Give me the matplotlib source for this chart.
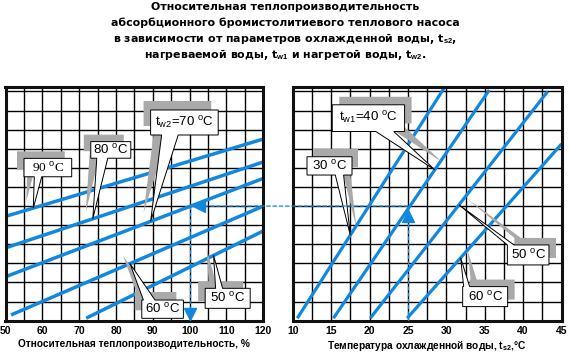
import numpy as np
import matplotlib
matplotlib.use('Agg')
import matplotlib.pyplot as plt
from matplotlib.patches import Polygon, ConnectionPatch

plt.rcParams['font.family'] = ['Liberation Sans', 'DejaVu Sans']
plt.rcParams['mathtext.fontset'] = 'custom'
plt.rcParams['mathtext.rm'] = 'Liberation Sans'
plt.rcParams['mathtext.it'] = 'Liberation Sans:italic'
plt.rcParams['mathtext.bf'] = 'Liberation Sans:bold'

# ---------------- data ----------------
title_lines = [
    'Относительная теплопроизводительность',
    'абсорбционного бромистолитиевого теплового насоса',
    r'в зависимости от параметров охлажденной воды, t$_{\mathbf{s2}}$,',
    r'нагреваемой воды, t$_{\mathbf{w1}}$ и нагретой воды, t$_{\mathbf{w2}}$.',
]
left_xlabel = 'Относительная теплопроизводительность, %'
right_xlabel = r'Температура охлажденной воды, t$_{\mathbf{s2}}$,°C'

# left panel: relative capacity (%) vs. level, one line per t_w2
left_tw2 = [90, 80, 70, 60, 50]
left_x = [[50, 120], [50, 120], [50, 120], [51.5, 120], [71.9, 120]]
left_y = [[5.46, 9.51], [3.81, 8.31], [2.30, 7.45], [0.30, 6.00], [0.13, 4.70]]
left_ticks = [50, 60, 70, 80, 90, 100, 110, 120]

# right panel: chilled water temperature vs. level, one line per t_w1
right_tw1 = [30, 40, 50, 60]
right_x = [[10.6, 29.7], [15.3, 35.6], [20.1, 43.2], [24.9, 45.0]]
right_y = [[0.13, 12.17], [0.13, 12.08], [0.13, 12.00], [0.13, 9.25]]
right_ticks = [10, 15, 20, 25, 30, 35, 40, 45]

# worked example
ex_ts2 = 25
ex_level = 6
ex_q = 100

BLUE = '#1188dd'
GRAY = '#a9a9a9'

fig = plt.figure(figsize=(5.7, 3.57), dpi=100)
axL = fig.add_axes([5.5/570, 1-320.7/357, (263.3-5.5)/570, (320.7-86.7)/357])
axR = fig.add_axes([292.7/570, 1-320.7/357, (561.5-292.7)/570, (320.7-86.7)/357])

YMAX = 12.25
for ax, lo, hi, step, ticks in [(axL, 50, 120, 5, left_ticks), (axR, 10, 45, 2.5, right_ticks)]:
    ax.set_xlim(lo, hi)
    ax.set_ylim(0, YMAX)
    ax.set_xticks(ticks)
    ax.set_xticks(np.arange(lo, hi + 0.01, step), minor=True)
    ax.set_yticks(np.arange(0, 13, 1))
    ax.set_yticklabels([])
    ax.tick_params(which='both', length=0)
    ax.tick_params(axis='x', pad=4, labelsize=7.5)
    for lab in ax.get_xticklabels():
        lab.set_fontweight('bold')
    ax.grid(which='both', color='black', lw=1.0, zorder=0)
    ax.set_axisbelow(True)
    for sp in ax.spines.values():
        sp.set_linewidth(2.2)
        sp.set_color('#111111')

for xs, ys in zip(left_x, left_y):
    axL.plot(xs, ys, color=BLUE, lw=2.5, solid_capstyle='butt', zorder=2)
for xs, ys in zip(right_x, right_y):
    axR.plot(xs, ys, color=BLUE, lw=2.3, solid_capstyle='butt', zorder=2)

# worked example dashed path
axR.plot([ex_ts2, ex_ts2], [0, ex_level], color=BLUE, lw=0.9, ls=(0, (3, 2)), zorder=3)
axL.plot([ex_q, ex_q], [ex_level, 0], color=BLUE, lw=0.9, ls=(0, (3, 2)), zorder=3)
con = ConnectionPatch(xyA=(ex_ts2, ex_level), coordsA=axR.transData,
                      xyB=(ex_q, ex_level), coordsB=axL.transData,
                      color=BLUE, lw=0.9, ls=(0, (3, 2)), zorder=3)
fig.add_artist(con)
axR.plot([ex_ts2], [ex_level - 0.5], marker='^', ms=8, color=BLUE, mec=BLUE, zorder=4, clip_on=False)
axL.plot([ex_q + 2.5], [ex_level], marker='<', ms=8, color=BLUE, mec=BLUE, zorder=4, clip_on=False)
axL.plot([ex_q], [0.35], marker='v', ms=8, color=BLUE, mec=BLUE, zorder=4, clip_on=False)

axL.set_xlabel(left_xlabel, fontsize=7.3, fontweight='bold', labelpad=2)
axR.set_xlabel(right_xlabel, fontsize=7.3, fontweight='bold', labelpad=2)

for i, s in enumerate(title_lines):
    fig.text(0.5, 1 - (7 + 16 * i) / 357, s, ha='center', va='center',
             fontsize=7.9, fontweight='bold', family=['DejaVu Sans'])

# ---------------- callouts ----------------
deg = r' $^{\rm o}$C'
# (axis, line series, line index, tip x, text, box (dx0,dx1,dy0,dy1) px, wedge base (b0,b1) px, shadow (sx,sy) px, family)
callouts = [
    (axL, left_x, left_y, 0, 57.55, '90' + deg, (-9.3, 38.4, 31.3, 49.7), (1, 8.4), (-7, 7), 'Liberation Serif'),
    (axL, left_x, left_y, 1, 73.7, '80' + deg, (-2, 38, 60.6, 77.2), (4, 15), (-7, 7), 'Liberation Sans'),
    (axL, left_x, left_y, 2, 89.4, r't$_{\rm w2}$=70' + deg, (0, 67.6, 86.4, 111.4), (11, 27.6), (-7, 9), 'Liberation Sans'),
    (axL, left_x, left_y, 3, 83.8, '60' + deg, (11.8, 53.4, -36.4, -54.7), (13.4, 25), (-7, 8), 'Liberation Sans'),
    (axL, left_x, left_y, 4, 106.5, '50' + deg, (-8.4, 36.6, -32.9, -52.9), (2, 9), (-7, 7), 'Liberation Sans'),
    (axR, right_x, right_y, 1, 28.5, r't$_{\rm w1}$=40' + deg, (-102.5, -30.2, 38.3, 65), (-59, -41), (7, 8), 'Liberation Sans'),
    (axR, right_x, right_y, 0, 17.5, '30' + deg, (-43.3, 1.7, 60.1, 78.4), (-15, -6.7), (6, 8), 'Liberation Sans'),
    (axR, right_x, right_y, 2, 31.65, '50' + deg, (48.4, 90, -40.1, -60.1), (48.4, 55), (7, 7), 'Liberation Sans'),
    (axR, right_x, right_y, 3, 31.87, '60' + deg, (2, 47, -28.8, -48.8), (3, 9), (7, 7), 'Liberation Sans'),
]

fig.canvas.draw()
for ax, sx_, sy_, idx, tx, text, box, base, shadow, fam in callouts:
    ty = np.interp(tx, sx_[idx], sy_[idx])
    tip = ax.transData.transform((tx, ty))
    dx0, dx1, dy0, dy1 = box
    b0, b1 = base
    # box edge nearest the tip is dy0
    pts = [(dx0, dy0), (b0, dy0), (0, 0), (b1, dy0), (dx1, dy0), (dx1, dy1), (dx0, dy1)]
    inv = ax.transData.inverted()
    def to_data(off):
        return [inv.transform((tip[0] + px + off[0], tip[1] + py + off[1])) for px, py in pts]
    sh = Polygon(to_data(shadow), closed=True, facecolor=GRAY, edgecolor='none', zorder=5, clip_on=False)
    ax.add_patch(sh)
    wp = Polygon(to_data((0, 0)), closed=True, facecolor='white', edgecolor='black', lw=0.7, zorder=6, clip_on=False)
    ax.add_patch(wp)
    cx, cy = inv.transform((tip[0] + (dx0 + dx1) / 2, tip[1] + (dy0 + dy1) / 2))
    ax.text(cx, cy, text, ha='center', va='center', fontsize=9.5, family=fam, zorder=7, clip_on=False)

fig.savefig('out.png', dpi=100)
